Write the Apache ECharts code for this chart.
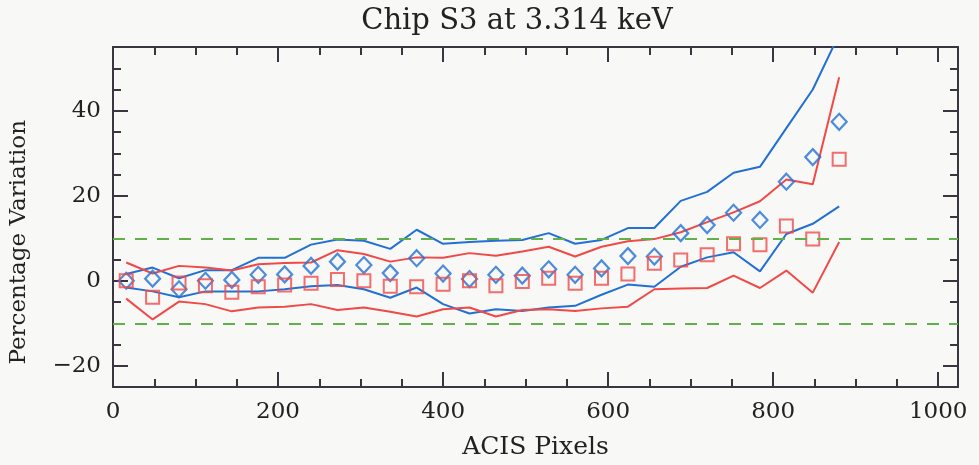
<!DOCTYPE html>
<html>
<head>
<meta charset="utf-8">
<script src="https://cdn.jsdelivr.net/npm/echarts@6/dist/echarts.min.js"></script>
<style>
html,body{margin:0;padding:0;background:#f8f8f6;}
#chart{width:979px;height:465px;}
</style>
</head>
<body>
<div id="chart"></div>
<script>
// ---- data ----
const xPixels = [16,48,80,112,144,176,208,240,272,304,336,368,400,432,464,496,528,560,592,624,656,688,720,752,784,816,848,880];
const diamondVals = [0,0.5,-2,0,0.2,1.4,1.5,3.5,4.5,3.7,1.8,5.3,1.7,0.4,1.4,1.2,2.7,1.4,2.9,5.8,5.7,11.2,13.1,16.0,14.3,23.3,29.1,37.4];
const squareVals = [0,-3.9,-0.5,-1.2,-2.7,-1.4,-1.0,-0.6,0.3,0,-1.3,-1.4,-0.8,0,-1.2,-0.2,0.6,-0.6,0.6,1.6,4.1,4.9,6.1,8.7,8.5,12.9,9.8,28.6];
const blueUpper = [1.6,3.1,0.6,2.5,2.5,5.4,5.4,8.5,9.7,9.4,7.5,12.0,8.7,9.1,9.4,9.6,11.2,8.7,9.6,12.4,12.4,18.8,20.9,25.4,26.8,35.9,45.0,58];
const blueLower = [-1.6,-2.5,-3.9,-2.5,-2.5,-2.5,-2.0,-1.3,-1.0,-2.0,-4.0,-1.6,-5.5,-7.7,-6.7,-7.1,-6.3,-5.9,-3.3,-0.9,-1.4,3.3,5.5,6.7,2.2,11.0,13.4,17.5];
const redUpper = [4.3,1.7,3.5,3.1,2.4,3.9,4.2,4.3,7.2,6.3,4.5,5.5,5.4,6.5,5.9,6.9,8.0,5.7,8.0,9.3,9.8,11.4,13.8,16.1,18.7,23.8,22.7,47.9];
const redLower = [-4.2,-9.1,-4.9,-5.5,-7.2,-6.3,-6.1,-5.5,-6.9,-6.3,-7.3,-8.4,-6.7,-6.3,-8.4,-6.9,-6.7,-7.1,-6.5,-6.1,-2.0,-1.8,-1.7,1.2,-1.7,2.4,-2.8,9.1];
const refLevels = [10,-10];
const xTickLabels = [0,200,400,600,800,1000];
const xMinorTicks = [50,100,150,250,300,350,450,500,550,650,700,750,850,900,950];
const yTickLabels = [-20,0,20,40];
const yMinorTicks = [-15,-10,-5,5,10,15,25,30,35,45,50];

// ---- styling ----
const FONT = 'DejaVu Serif';
const FRAME = '#3a3540';
const BLUE = '#2270d4';
const RED = '#f04a48';
const GREEN = '#62b048';

function pairs(xs, ys){ return xs.map((x,i)=>[x, ys[i]]); }
function fmt(v){ return String(v).replace('-', '\u2212'); }

function xAx(pos, ticks, len, withLabels, withLine){
  return {
    type:'value', position:pos, min:0, max:1024,
    axisLine:{show:withLine, onZero:false, lineStyle:{color:FRAME, width:2}},
    axisTick:{show:true, inside:true, length:len, customValues:ticks, lineStyle:{color:FRAME, width:2}},
    axisLabel:{show:withLabels, customValues:xTickLabels, margin:14, color:'#222', fontFamily:FONT, fontSize:23, formatter:fmt},
    splitLine:{show:false}
  };
}
function yAx(pos, ticks, len, withLabels, withLine){
  return {
    type:'value', position:pos, min:-25, max:55,
    axisLine:{show:withLine, onZero:false, lineStyle:{color:FRAME, width:2}},
    axisTick:{show:true, inside:true, length:len, customValues:ticks, lineStyle:{color:FRAME, width:2}},
    axisLabel:{show:withLabels, customValues:yTickLabels, margin:12, color:'#222', fontFamily:FONT, fontSize:23, formatter:fmt, padding:[6,0,0,0]},
    splitLine:{show:false}
  };
}

const chart = echarts.init(document.getElementById('chart'), null, {renderer:'canvas'});
chart.setOption({
  backgroundColor:'#f8f8f6',
  animation:false,
  title:{
    text:'Chip S3 at 3.314 keV', left:512, top:2, textAlign:'center',
    textStyle:{fontFamily:FONT, fontSize:29, fontWeight:'normal', color:'#222'}
  },
  grid:{left:113, right:21, top:47, bottom:78},
  xAxis:[
    Object.assign(xAx('bottom', xTickLabels, 15, true, true), {
      name:'ACIS Pixels', nameLocation:'middle', nameGap:48,
      nameTextStyle:{fontFamily:FONT, fontSize:25, color:'#222'}
    }),
    xAx('bottom', xMinorTicks, 8, false, false),
    xAx('top', xTickLabels, 15, false, true),
    xAx('top', xMinorTicks, 8, false, false)
  ],
  yAxis:[
    yAx('left', yTickLabels, 15, true, true),
    yAx('left', yMinorTicks, 8, false, false),
    yAx('right', yTickLabels, 15, false, true),
    yAx('right', yMinorTicks, 8, false, false)
  ],
  graphic:[{
    type:'text', left:8, top:120, rotation:Math.PI/2,
    style:{text:'Percentage Variation', fontFamily:FONT, fontSize:23, fill:'#222'}
  }],
  series:[
    {type:'line', data:pairs(xPixels, blueUpper), showSymbol:false, lineStyle:{color:BLUE, width:2}, z:3,
     markLine:{silent:true, symbol:['none','none'], label:{show:false},
       lineStyle:{color:GREEN, width:2, type:[12,10]},
       data:refLevels.map(v=>({yAxis:v}))}},
    {type:'line', data:pairs(xPixels, blueLower), showSymbol:false, lineStyle:{color:BLUE, width:2}, z:3},
    {type:'line', data:pairs(xPixels, redUpper), showSymbol:false, lineStyle:{color:RED, width:2}, z:3},
    {type:'line', data:pairs(xPixels, redLower), showSymbol:false, lineStyle:{color:RED, width:2}, z:3},
    {type:'scatter', data:pairs(xPixels, diamondVals), symbol:'diamond', symbolSize:[15,16],
     itemStyle:{color:'rgba(0,0,0,0)', borderColor:BLUE, borderWidth:2.2}, z:4},
    {type:'scatter', data:pairs(xPixels, squareVals), symbol:'rect', symbolSize:13,
     itemStyle:{color:'rgba(0,0,0,0)', borderColor:RED, borderWidth:2}, z:4}
  ]
});
</script>
</body>
</html>
